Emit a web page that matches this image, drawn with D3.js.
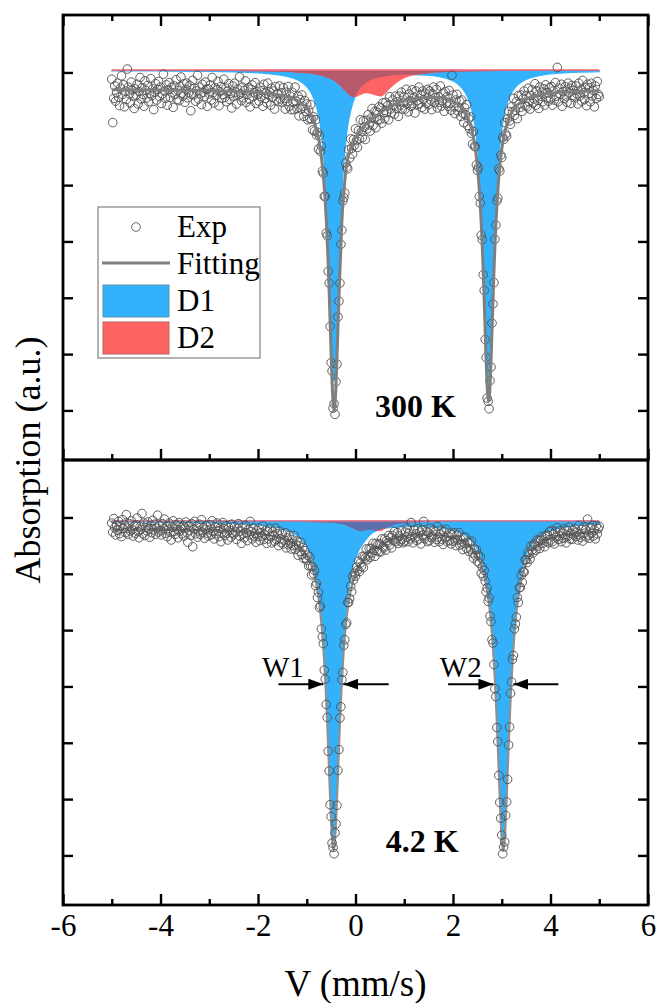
<!DOCTYPE html>
<html>
<head>
<meta charset="utf-8">
<script src="https://cdn.jsdelivr.net/npm/d3@7"></script>
<style>
  html, body { margin: 0; padding: 0; background: #ffffff; }
  svg { display: block; }
</style>
</head>
<body>
<svg id="chart" width="657" height="1003"></svg>
<script>
// Mössbauer spectra at 300 K and 4.2 K: measured counts, total fit and the two doublet subspectra.

// ---- velocity channels (mm/s) ----
const velStart = -5.0;
const velStep = 0.02;

// ---- measured absorption, 300 K (a.u.), one value per channel ----
const exp300K = [
  1.2, 8.9, 4.6, 2.4, 5.1, 3.6, 1.9, 4.4, 5.9, 2.8, 0.6, 3.9, 2.2, 6.1, 3.3, 4.8, -0.6, 2.6, 3.8, 5.4, 1.7, 3.1, 4.2, 6.4, 2.9,
  4.0, 2.1, 5.6, 3.4, 0.9, 4.7, 2.7, 3.9, 6.0, 1.5, 3.2, 4.5, 2.3, 5.2, 3.7, 1.1, 4.1, 2.9, 6.6, 3.5, 2.0, 4.9, 3.0, 1.6, 4.3,
  2.6, 5.5, 3.8, 0.3, 3.3, 4.6, 2.2, 5.8, 3.1, 1.8, 4.4, 2.7, 3.6, 6.2, 2.4, 3.9, 1.3, 4.8, 3.2, 5.0, 2.5, 0.8, 3.7, 4.2, 2.0,
  5.3, 3.0, 1.9, 4.5, 3.6, 2.3, 6.8, 3.9, 1.4, 4.0, 2.8, 5.1, 3.3, 0.5, 4.7, 2.6, 3.8, 5.7, 2.1, 3.5, 4.3, 1.7, 3.0, 6.0, 2.9,
  3.8, 2.2, 4.9, 0.9, 3.6, 5.4, 2.7, 4.1, 3.1, 1.6, 5.9, 3.4, 2.5, 4.6, 3.9, 1.2, 4.4, 2.8, 5.2, 3.3, 2.0, 4.8, 3.7, 6.3, 2.4,
  4.2, 1.9, 3.5, 5.6, 2.9, 4.0, 0.8, 3.8, 5.0, 2.6, 4.5, 3.2, 1.5, 5.3, 3.9, 2.7, 4.7, 6.1, 3.0, 2.2, 4.3, 3.6, 1.8, 5.5, 3.4,
  3.9, 5.1, 2.6, 4.3, 3.2, 6.0, 2.1, 4.6, 3.7, 5.4, 1.9, 4.0, 3.5, 5.8, 2.8, 4.4, 3.3, 6.5, 2.5, 4.9, 3.8, 5.2, 2.4, 4.7, 3.6,
  5.3, 2.7, 4.6, 6.5, 3.5, 5.2, 2.5, 6.0, 4.2, 6.6, 3.5, 5.3, 6.6, 2.6, 5.1, 6.4, 4.2, 7.7, 4.8, 6.5, 4.0, 6.0, 7.8, 5.0, 6.9,
  5.6, 8.4, 6.7, 8.2, 5.7, 8.3, 10.2, 7.9, 10.4, 8.4, 11.1, 10.6, 13.6, 11.2, 14.0, 13.1, 17.5, 17.9, 22.0, 22.0, 28.5, 29.0, 35.3, 37.4, 45.1,
  51.5, 53.0, 59.6, 58.8, 60.7, 54.9, 51.8, 43.4, 40.6, 37.4, 30.5, 28.0, 22.8, 22.2, 21.4, 16.1, 16.8, 17.1, 13.7, 15.2, 11.8, 13.5, 14.5, 11.9, 12.9,
  10.0, 12.1, 13.3, 10.3, 11.8, 8.4, 10.5, 11.6, 8.6, 9.7, 11.9, 8.5, 10.0, 7.5, 9.3, 10.4, 8.1, 6.4, 9.4, 8.1, 6.9, 9.8, 7.0, 8.4, 6.1,
  8.4, 6.3, 9.0, 5.4, 7.1, 8.2, 5.3, 7.1, 5.9, 8.4, 4.3, 6.5, 7.2, 4.9, 5.8, 7.4, 4.2, 6.4, 5.2, 7.8, 4.2, 5.8, 3.5, 6.5, 5.3,
  4.3, 6.5, 3.0, 5.5, 7.0, 3.8, 5.0, 6.0, 3.1, 5.5, 4.4, 7.2, 3.3, 5.0, 5.7, 2.6, 5.5, 4.0, 6.2, 3.3, 4.8, 6.5, 3.7, 5.5, 3.0,
  5.7, 3.3, 4.9, 6.6, 3.8, 2.6, 5.4, 4.5, 3.0, 6.3, 4.3, 5.3, 2.4, 6.0, 5.0, 3.7, 6.9, 3.4, 5.4, 4.3, 6.0, 3.2, 5.5, 6.7, 0.5,
  4.0, 6.1, 7.3, 4.9, 3.9, 6.8, 6.2, 5.1, 7.8, 4.9, 7.2, 8.9, 6.3, 7.5, 5.7, 9.4, 8.2, 10.0, 7.9, 10.8, 12.7, 10.5, 13.1, 13.2, 16.4,
  17.4, 16.9, 22.0, 23.2, 28.9, 29.7, 35.9, 38.7, 47.4, 50.6, 57.8, 58.4, 59.7, 54.7, 52.3, 44.5, 41.1, 37.3, 29.6, 27.1, 22.8, 22.3, 17.1, 17.5, 14.7,
  15.1, 11.5, 11.9, 8.9, 10.9, 11.3, 8.2, 6.9, 8.6, 9.2, 6.1, 7.0, 4.6, 7.6, 6.7, 5.2, 8.2, 4.1, 5.6, 6.2, 4.0, 6.9, 4.6, 3.3, 5.9,
  4.1, 6.1, 2.8, 5.2, 6.5, 4.1, 3.1, 5.4, 4.7, 2.0, 5.8, 3.3, 5.0, 6.4, 2.6, 4.2, 3.5, 5.2, 2.9, 5.8, 2.2, 4.5, 3.6, 5.1, 2.7,
  4.7, 2.5, 5.8, 3.3, 4.9, 1.8, 4.2, -0.9, 5.2, 2.8, 3.9, 2.1, 6.0, 3.4, 4.6, 2.5, 4.2, 5.3, 1.9, 3.6, 2.8, 5.5, 2.3, 4.1, 3.2,
  4.5, 2.4, 3.8, 5.6, 1.9, 4.2, 3.1, 5.1, 1.4, 3.6, 4.8, 2.6, 5.9, 2.1, 3.8, 2.7, 5.2, 1.9, 4.2, 3.2, 6.1, 2.4, 4.6, 1.6, 3.9,
  4.3
];

// ---- measured absorption, 4.2 K (a.u.) ----
const exp4K = [
  1.0, 2.6, 0.2, 1.8, 3.1, 1.4, 2.3, 0.7, 2.9, 1.6, 3.4, 0.4, 2.0, 1.2, 2.7, -0.5, 1.9, 3.0, 1.1, 2.4, 0.6, 2.2, 3.3, 1.5, 2.8,
  1.3, 0.1, 2.5, 3.6, 1.7, 2.1, -0.7, 2.9, 1.0, 3.2, 1.8, 2.4, 0.8, 2.0, 3.5, 1.5, 2.7, 0.5, 2.2, 1.2, 3.0, 1.9, -0.4, 2.6, 1.4,
  2.3, 3.1, 1.1, 2.0, 0.3, 2.8, 1.6, 3.4, 2.2, 1.0, 2.6, 4.0, 1.7, 0.6, 2.5, 3.0, 1.3, 2.1, 3.6, 0.9, 2.4, 1.8, 2.9, 1.5, 3.3,
  1.9, 0.8, 2.7, 4.4, 1.5, 2.3, 3.2, 1.1, 5.2, 2.0, 0.7, 2.9, 1.6, 3.5, 2.4, 1.2, 3.0, 0.4, 2.6, 1.8, 3.7, 2.1, 1.4, 2.8, 3.3,
  2.2, 1.3, 3.1, 0.6, 2.5, 3.8, 1.7, 2.9, 1.0, 2.4, 3.4, 1.9, 4.3, 2.6, 0.9, 2.0, 3.2, 1.5, 2.8, 4.0, 1.8, 2.3, 3.5, 1.2, 2.7,
  3.0, 1.6, 2.6, 3.9, 2.0, 1.1, 3.3, 2.4, 4.6, 1.8, 2.9, 3.6, 1.4, 2.7, 4.1, 2.2, 3.1, 0.7, 2.5, 3.8, 1.9, 3.4, 2.8, 4.4, 2.3,
  3.4, 1.9, 4.1, 2.7, 3.3, 1.5, 3.9, 3.1, 2.3, 4.6, 2.5, 3.8, 1.9, 3.4, 4.5, 2.5, 3.2, 4.2, 1.9, 3.9, 2.9, 5.0, 2.4, 3.8, 4.5,
  2.9, 4.7, 4.0, 2.7, 5.4, 3.6, 4.8, 3.2, 4.6, 5.6, 3.9, 5.0, 3.2, 5.7, 4.9, 4.2, 6.7, 5.0, 6.0, 4.4, 6.6, 5.3, 7.3, 5.9, 7.2,
  7.6, 6.7, 8.6, 7.0, 8.6, 10.2, 8.7, 10.0, 9.4, 12.1, 11.7, 14.2, 13.3, 16.0, 15.7, 19.8, 21.2, 22.4, 27.1, 28.7, 33.2, 35.5, 41.5, 45.0, 51.0,
  53.1, 57.8, 58.6, 59.7, 56.0, 54.4, 51.1, 44.9, 41.2, 35.6, 33.6, 28.8, 27.5, 22.7, 21.7, 19.0, 18.7, 15.1, 15.1, 14.4, 12.2, 13.2, 10.4, 11.1, 9.9,
  10.4, 8.8, 9.4, 7.8, 9.6, 8.1, 8.7, 6.9, 8.9, 6.9, 7.2, 5.6, 7.5, 6.8, 5.5, 7.1, 5.5, 6.3, 4.6, 5.8, 6.9, 4.6, 5.9, 4.8, 6.1,
  4.7, 6.1, 3.8, 5.2, 5.4, 3.8, 5.8, 4.1, 4.5, 3.2, 4.9, 3.6, 5.4, 3.2, 4.1, 2.5, 4.3, 3.8, 2.7, 4.6, 3.3, 4.2, 2.3, 3.9, 4.5,
  4.2, 2.6, 3.5, 1.9, 4.3, 2.8, 3.8, 0.9, 3.4, 4.5, 2.2, 3.6, 2.9, 4.1, 2.0, 3.8, 2.6, 4.7, 2.2, 3.1, 0.7, 3.8, 3.3, 2.5, 4.3,
  2.7, 4.1, 1.9, 3.6, 3.3, 2.2, 4.4, 2.5, 3.9, 1.6, 3.5, 4.3, 2.9, 2.2, 3.9, 4.8, 2.5, 3.6, 2.1, 4.3, 3.3, 4.1, 2.8, 4.7, 3.1,
  4.2, 2.7, 4.0, 5.0, 3.1, 4.0, 2.7, 4.9, 3.9, 4.7, 5.7, 3.5, 4.6, 3.5, 5.5, 4.4, 6.0, 4.5, 5.6, 4.2, 6.3, 7.2, 5.6, 6.8, 5.7,
  7.8, 6.7, 8.1, 7.0, 9.9, 8.8, 10.4, 9.4, 11.3, 13.2, 12.5, 14.9, 14.3, 17.5, 18.5, 21.7, 22.3, 26.1, 30.4, 31.8, 37.3, 39.8, 45.8, 50.6, 53.4,
  56.4, 59.7, 58.5, 57.6, 52.9, 50.5, 46.5, 40.4, 37.2, 31.2, 29.2, 25.2, 24.5, 19.8, 18.9, 17.7, 14.2, 15.1, 12.5, 12.4, 10.3, 11.5, 9.6, 9.7, 7.5,
  7.5, 8.0, 6.2, 6.6, 7.4, 5.1, 5.8, 6.3, 4.7, 5.0, 5.8, 4.0, 5.1, 4.1, 5.5, 4.0, 3.4, 4.6, 4.0, 5.2, 3.2, 4.3, 3.2, 4.5, 2.5,
  4.0, 2.3, 4.3, 3.0, 4.7, 2.5, 3.5, 1.8, 3.9, 3.3, 2.3, 4.3, 2.8, 3.7, 2.0, 3.5, 4.5, 2.3, 3.3, 1.7, 3.8, 2.8, 3.9, 2.3, 3.1,
  2.0, 3.4, 2.6, 4.0, 1.4, 3.1, 3.5, 2.1, 4.2, 1.7, 2.8, 2.2, 3.5, 0.3, 3.1, 3.7, 1.8, 2.8, 1.4, 3.3, 2.2, 3.8, 1.5, 2.9, 2.0,
  1.6
];

// ---- fitted curves, 300 K ----
const knots300K = [-5.0, -4.0, -3.0, -2.5, -2.0, -1.7, -1.4, -1.2, -1.05, -0.95,
  -0.88, -0.82, -0.76, -0.72, -0.68, -0.64, -0.60, -0.58, -0.56, -0.54,
  -0.52, -0.50, -0.48, -0.46, -0.44, -0.42, -0.40, -0.38, -0.36, -0.34,
  -0.32, -0.30, -0.28, -0.24, -0.20, -0.14, -0.06, 0.04, 0.14, 0.24,
  0.34, 0.44, 0.52, 0.62, 0.72, 0.85, 1.0, 1.2, 1.45, 1.7,
  1.9, 2.05, 2.18, 2.28, 2.36, 2.42, 2.47, 2.51, 2.55, 2.58,
  2.61, 2.63, 2.65, 2.67, 2.69, 2.71, 2.73, 2.75, 2.77, 2.79,
  2.81, 2.83, 2.85, 2.88, 2.91, 2.95, 2.99, 3.04, 3.10, 3.18,
  3.28, 3.42, 3.60, 3.85, 4.2, 4.6, 5.0];
const fit300K = [3.07, 3.11, 3.22, 3.33, 3.56, 3.84, 4.32, 5.0, 5.92, 6.97,
  8.12, 9.56, 11.67, 13.71, 16.51, 20.5, 26.08, 29.84, 34.1, 39.08,
  44.45, 50.05, 55.05, 58.65, 60.07, 58.87, 55.48, 50.7, 45.33, 40.15,
  35.38, 31.0, 26.5, 21.5, 17.5, 14.5, 12.6, 11.0, 9.9, 9.0,
  8.2, 7.6, 7.1, 6.5, 6.0, 5.45, 5.0, 4.65, 4.45, 4.42,
  4.75, 5.35, 6.29, 7.59, 9.4, 11.58, 14.3, 17.6, 22.2, 26.9,
  33.0, 37.9, 43.2, 48.7, 53.6, 57.1, 58.4, 57.1, 53.6, 48.7,
  43.2, 37.9, 33.0, 26.9, 22.2, 17.55, 14.25, 11.5, 9.3, 7.48,
  6.14, 5.07, 4.36, 3.86, 3.52, 3.34, 3.24];
const d1_300K = [0.06, 0.09, 0.17, 0.26, 0.42, 0.64, 1.05, 1.62, 2.45, 3.42,
  4.48, 5.84, 7.87, 9.84, 12.55, 16.45, 21.9, 25.6, 29.8, 34.7,
  40.0, 45.5, 50.4, 53.9, 55.2, 53.9, 50.4, 45.5, 40.0, 34.7,
  29.8, 25.6, 21.9, 16.4, 12.5, 8.8, 5.86, 3.84, 2.72, 2.03,
  1.6, 1.3, 1.19, 1.03, 0.92, 0.82, 0.76, 0.75, 0.83, 1.07,
  1.5, 2.1, 3.07, 4.39, 6.2, 8.38, 11.1, 14.4, 19.0, 23.7,
  29.8, 34.7, 40.0, 45.5, 50.4, 53.9, 55.2, 53.9, 50.4, 45.5,
  40.0, 34.7, 29.8, 23.7, 19.0, 14.4, 11.1, 8.35, 6.15, 4.33,
  2.99, 1.95, 1.26, 0.78, 0.46, 0.29, 0.2];
const d2Knots300K = [-5, -3, -2, -1.5, -1.2, -1.0, -0.8, -0.6, -0.5, -0.4,
  -0.3, -0.2, -0.12, -0.06, 0.0, 0.1, 0.2, 0.3, 0.4, 0.46,
  0.52, 0.6, 0.7, 0.8, 0.9, 1.0, 1.2, 1.5, 2.0, 3.0, 4.0, 5.0];
const d2_300K = [0.03, 0.07, 0.14, 0.24, 0.38, 0.51, 0.74, 1.18, 1.55, 2.08,
  2.84, 3.78, 4.45, 4.72, 4.72, 4.36, 4.05, 4.13, 4.4, 4.55,
  4.6, 4.2, 3.3, 2.5, 1.85, 1.4, 0.86, 0.47, 0.24, 0.1, 0.05, 0.03];
const compBase300K = -0.35;

// ---- fitted curves, 4.2 K ----
const knots4K = [-5.0, -4.0, -3.0, -2.5, -2.0, -1.7, -1.4, -1.2, -1.05, -0.95,
  -0.87, -0.81, -0.76, -0.72, -0.68, -0.64, -0.61, -0.58, -0.55, -0.53,
  -0.51, -0.49, -0.47, -0.45, -0.43, -0.41, -0.39, -0.37, -0.35, -0.32,
  -0.29, -0.26, -0.22, -0.18, -0.13, -0.05, 0.05, 0.18, 0.32, 0.5,
  0.7, 0.95, 1.25, 1.6, 1.95, 2.2, 2.38, 2.5, 2.6, 2.67,
  2.73, 2.78, 2.82, 2.86, 2.89, 2.92, 2.95, 2.97, 2.99, 3.01,
  3.03, 3.05, 3.07, 3.09, 3.11, 3.14, 3.17, 3.20, 3.24, 3.28,
  3.34, 3.41, 3.50, 3.63, 3.8, 4.05, 4.4, 4.8, 5.0];
const fit4K = [2.10, 2.14, 2.26, 2.39, 2.8, 3.3, 4.0, 4.9, 6.15, 7.6,
  9.5, 11.56, 14.11, 17.03, 20.75, 25.83, 30.64, 36.46, 43.18, 47.69,
  52.1, 55.81, 58.22, 59.13, 58.24, 55.85, 52.16, 47.77, 43.29, 36.65,
  30.9, 26.16, 21.14, 17.69, 14.45, 11.23, 8.99, 7.27, 5.75, 5.19,
  4.04, 3.35, 3.04, 3.07, 3.52, 4.25, 5.44, 6.94, 9.1, 11.55,
  14.77, 18.67, 23.07, 28.97, 34.47, 40.87, 47.67, 52.07, 55.77, 58.17,
  59.07, 58.17, 55.77, 52.07, 47.67, 40.87, 34.47, 28.97, 23.17, 18.77,
  14.16, 10.81, 8.15, 5.99, 4.57, 3.58, 2.97, 2.65, 2.55];
const d1_4K = [0.09, 0.13, 0.24, 0.37, 0.63, 0.94, 1.61, 2.51, 3.81, 5.32,
  7.24, 9.41, 11.94, 14.84, 18.54, 23.6, 28.4, 34.2, 40.9, 45.4,
  49.8, 53.5, 55.9, 56.8, 55.9, 53.5, 49.8, 45.4, 40.9, 34.2,
  28.4, 23.6, 18.5, 14.94, 11.5, 7.98, 5.44, 3.62, 2.2, 1.45,
  1.1, 0.95, 0.9, 1.0, 1.47, 2.25, 3.44, 4.94, 7.09, 9.55,
  12.77, 16.67, 21.07, 26.87, 32.37, 38.77, 45.57, 49.97, 53.67, 56.07,
  56.97, 56.07, 53.67, 49.97, 45.57, 38.77, 32.37, 26.87, 21.07, 16.67,
  12.06, 8.71, 6.05, 3.91, 2.49, 1.5, 0.89, 0.57, 0.47];
const d2Knots4K = [-5, -3, -2, -1.5, -1.0, -0.7, -0.5, -0.35, -0.2, -0.1,
  0.0, 0.1, 0.2, 0.3, 0.4, 0.5, 0.6, 0.7, 0.85, 1.0,
  1.3, 1.7, 2.2, 3, 4, 5];
const d2_4K = [0.01, 0.02, 0.03, 0.04, 0.09, 0.16, 0.25, 0.39, 0.68, 1.03,
  1.5, 1.76, 1.6, 1.5, 1.64, 1.74, 1.4, 0.94, 0.51, 0.31,
  0.16, 0.08, 0.04, 0.02, 0.01, 0.01];
const compBase4K = 0.7;

// ---- axis ticks and labels ----
const xMajorTicks = [-6, -4, -2, 0, 2, 4, 6];
const xMinorTicks = [-5, -3, -1, 1, 3, 5];
const yTicks = [0, 10, 20, 30, 40, 50, 60];
const panelLabels = ["300 K", "4.2 K"];
const legendLabels = ["Exp", "Fitting", "D1", "D2"];

// ---- linewidth markers on the 4.2 K spectrum ----
const widthLabels = ["W1", "W2"];
const widthTips = [[-0.66, -0.25], [2.83, 3.24]];
const widthTails = [[-1.58, 0.68], [1.90, 4.16]];
const widthTextX = [-1.92, 1.73];
const widthLevel = 29.6;

// ---------------------------------------------------------------
const FONT = "'Liberation Serif', 'Times New Roman', Times, serif";
const svg = d3.select("#chart");
const frame = { left: 63, right: 648, top: 15, mid: 460, bottom: 905 };
const yDomain = [-10.2, 68.8];

const colors = {
  d1: "#33b1fa",
  d2: "#ff6464",
  fit: "#7f7f7f",
  point: "#555555",
  frame: "#000000"
};

const x = d3.scaleLinear().domain([-6, 6]).range([frame.left, frame.right]);

const panels = [
  {
    key: "p300", exp: exp300K, knots: knots300K, fit: fit300K, d1: d1_300K,
    d2Knots: d2Knots300K, d2: d2_300K, base: compBase300K,
    top: frame.top, bottom: frame.mid, overlap: "#b5596b",
    fitWidth: 3, fitColor: "#7f7f7f", fitAbove: true,
    label: panelLabels[0], labelAt: [0.40, 61.2],
    tickTop: true, tickLabels: false
  },
  {
    key: "p4", exp: exp4K, knots: knots4K, fit: fit4K, d1: d1_4K,
    d2Knots: d2Knots4K, d2: d2_4K, base: compBase4K,
    top: frame.mid, bottom: frame.bottom, overlap: "#5c70ae",
    fitWidth: 2.2, fitColor: "#909090", fitAbove: false,
    label: panelLabels[1], labelAt: [0.62, 59.4],
    tickTop: false, tickLabels: true
  }
];

const defs = svg.append("defs");
defs.append("marker")
  .attr("id", "arrowHead")
  .attr("markerUnits", "userSpaceOnUse")
  .attr("markerWidth", 15).attr("markerHeight", 11)
  .attr("refX", 15).attr("refY", 5.5)
  .attr("orient", "auto")
  .append("path").attr("d", "M0,0 L15,5.5 L0,11 Z").attr("fill", "#000");

panels.forEach(p => {
  const y = d3.scaleLinear().domain(yDomain).range([p.top, p.bottom]);

  defs.append("clipPath").attr("id", "clip-" + p.key)
    .append("rect")
    .attr("x", frame.left).attr("y", p.top)
    .attr("width", frame.right - frame.left).attr("height", p.bottom - p.top);

  const g = svg.append("g").attr("clip-path", `url(#clip-${p.key})`);

  const d1Area = d3.area()
    .x((d, i) => x(p.knots[i]))
    .y0(y(p.base))
    .y1(d => y(p.base + d))
    .curve(d3.curveMonotoneX);
  const d2Area = d3.area()
    .x((d, i) => x(p.d2Knots[i]))
    .y0(y(p.base))
    .y1(d => y(p.base + d))
    .curve(d3.curveMonotoneX);
  const fitLine = d3.line()
    .x((d, i) => x(p.knots[i]))
    .y(d => y(d))
    .curve(d3.curveMonotoneX);

  // D1 subspectrum
  g.append("path").attr("d", d1Area(p.d1))
    .attr("fill", colors.d1).attr("stroke", colors.d1).attr("stroke-width", 1.2);

  // D2 subspectrum, with a darker tone where it sits over D1
  defs.append("clipPath").attr("id", "d1clip-" + p.key)
    .append("path").attr("d", d1Area(p.d1));
  g.append("path").attr("d", d2Area(p.d2)).attr("fill", colors.d2);
  g.append("path").attr("d", d2Area(p.d2))
    .attr("fill", p.overlap).attr("clip-path", `url(#d1clip-${p.key})`);

  // baseline of the subspectra
  g.append("line")
    .attr("x1", x(velStart)).attr("x2", x(velStart + velStep * (p.exp.length - 1)))
    .attr("y1", y(p.base) - 0.5).attr("y2", y(p.base) - 0.5)
    .attr("stroke", "#f06070").attr("stroke-width", 1.4);

  const drawFit = () => g.append("path").attr("d", fitLine(p.fit))
    .attr("fill", "none").attr("stroke", p.fitColor)
    .attr("stroke-width", p.fitWidth).attr("stroke-linejoin", "round");

  if (!p.fitAbove) drawFit();

  // measured points
  g.append("g").selectAll("circle")
    .data(p.exp)
    .join("circle")
    .attr("cx", (d, i) => x(velStart + i * velStep))
    .attr("cy", d => y(d))
    .attr("r", 4.3)
    .attr("fill", "none")
    .attr("stroke", colors.point)
    .attr("stroke-width", 0.95);

  if (p.fitAbove) drawFit();

  // temperature label
  svg.append("text")
    .attr("x", x(p.labelAt[0])).attr("y", y(p.labelAt[1]))
    .attr("font-family", FONT).attr("font-size", 32).attr("font-weight", "bold")
    .text(p.label);

  // y ticks on both sides, pointing inward
  const yl = svg.append("g").attr("transform", `translate(${frame.left},0)`)
    .call(d3.axisLeft(y).tickValues(yTicks).tickSize(-10).tickFormat(""));
  const yr = svg.append("g").attr("transform", `translate(${frame.right},0)`)
    .call(d3.axisRight(y).tickValues(yTicks).tickSize(-10).tickFormat(""));
  [yl, yr].forEach(a => {
    a.select(".domain").remove();
    a.selectAll(".tick line").attr("stroke", colors.frame).attr("stroke-width", 2.4);
  });

  // x ticks, inward
  const bottomMajor = svg.append("g").attr("transform", `translate(0,${p.bottom})`)
    .call(d3.axisBottom(x).tickValues(xMajorTicks).tickSize(-11).tickPadding(9)
      .tickFormat(p.tickLabels ? (d => String(d)) : ""));
  const bottomMinor = svg.append("g").attr("transform", `translate(0,${p.bottom})`)
    .call(d3.axisBottom(x).tickValues(xMinorTicks).tickSize(-6).tickFormat(""));
  const axes = [bottomMajor, bottomMinor];
  if (p.tickTop) {
    axes.push(svg.append("g").attr("transform", `translate(0,${p.top})`)
      .call(d3.axisTop(x).tickValues(xMajorTicks).tickSize(-11).tickFormat("")));
    axes.push(svg.append("g").attr("transform", `translate(0,${p.top})`)
      .call(d3.axisTop(x).tickValues(xMinorTicks).tickSize(-6).tickFormat("")));
  }
  axes.forEach(a => {
    a.select(".domain").remove();
    a.selectAll(".tick line").attr("stroke", colors.frame).attr("stroke-width", 2.4);
    a.selectAll(".tick text")
      .attr("font-family", FONT).attr("font-size", 31).attr("fill", "#000");
  });

  // panel frame
  svg.append("rect")
    .attr("x", frame.left).attr("y", p.top)
    .attr("width", frame.right - frame.left).attr("height", p.bottom - p.top)
    .attr("fill", "none").attr("stroke", colors.frame).attr("stroke-width", 2.8);

  // linewidth markers (low-temperature spectrum)
  if (p.key === "p4") {
    widthLabels.forEach((lab, k) => {
      [0, 1].forEach(s => {
        svg.append("line")
          .attr("x1", x(widthTails[k][s])).attr("x2", x(widthTips[k][s]))
          .attr("y1", y(widthLevel)).attr("y2", y(widthLevel))
          .attr("stroke", "#000").attr("stroke-width", 2)
          .attr("marker-end", "url(#arrowHead)");
      });
      svg.append("text")
        .attr("x", x(widthTextX[k])).attr("y", y(widthLevel) - 7)
        .attr("font-family", FONT).attr("font-size", 29)
        .text(lab);
    });
  }
});

// ---- legend (upper panel) ----
const lg = svg.append("g").attr("transform", "translate(98,207)");
lg.append("rect").attr("width", 162).attr("height", 151)
  .attr("fill", "#fff").attr("stroke", "#8a8a8a").attr("stroke-width", 1.3);
const rowY = [20, 57, 94, 131];
lg.append("circle").attr("cx", 38).attr("cy", rowY[0]).attr("r", 4.3)
  .attr("fill", "none").attr("stroke", "#6a6a6a").attr("stroke-width", 1);
lg.append("line").attr("x1", 4).attr("x2", 72).attr("y1", rowY[1] - 1).attr("y2", rowY[1] - 1)
  .attr("stroke", colors.fit).attr("stroke-width", 3);
lg.append("rect").attr("x", 5).attr("y", rowY[2] - 16).attr("width", 66).attr("height", 32)
  .attr("fill", colors.d1).attr("stroke", "#5f8fae").attr("stroke-width", 1);
lg.append("rect").attr("x", 5).attr("y", rowY[3] - 16).attr("width", 66).attr("height", 32)
  .attr("fill", colors.d2).attr("stroke", "#b26464").attr("stroke-width", 1);
legendLabels.forEach((t, i) => {
  lg.append("text").attr("x", 79).attr("y", rowY[i] + 10)
    .attr("font-family", FONT).attr("font-size", 31).attr("fill", "#000")
    .text(t);
});

// ---- axis titles ----
svg.append("text")
  .attr("x", x(0)).attr("y", 996)
  .attr("text-anchor", "middle")
  .attr("font-family", FONT).attr("font-size", 37)
  .text("V (mm/s)");
svg.append("text")
  .attr("transform", `translate(40,${(frame.top + frame.bottom) / 2}) rotate(-90)`)
  .attr("text-anchor", "middle")
  .attr("font-family", FONT).attr("font-size", 36)
  .text("Absorption (a.u.)");
</script>
</body>
</html>
